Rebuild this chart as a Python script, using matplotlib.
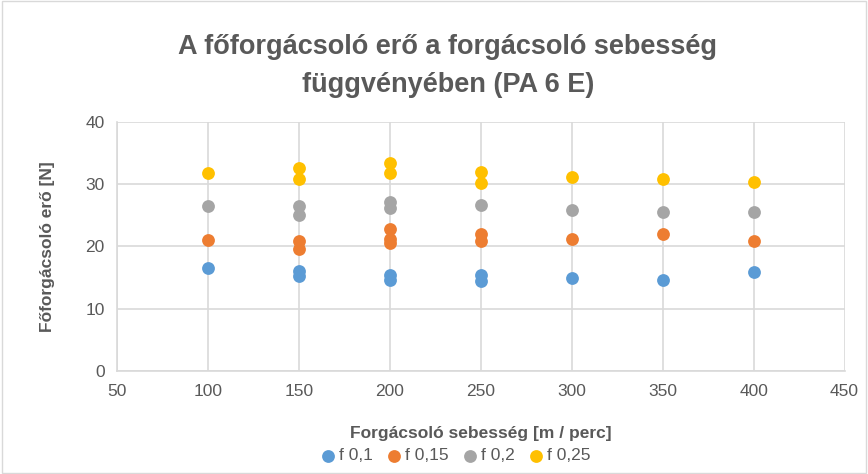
import matplotlib
matplotlib.use("Agg")
import matplotlib.pyplot as plt
from matplotlib.patches import Rectangle

# Adatok
x_f01 = [100, 150, 150, 200, 200, 250, 250, 300, 350, 400]
y_f01 = [16.6, 16.0, 15.2, 15.4, 14.6, 15.4, 14.4, 15.0, 14.7, 15.9]

x_f015 = [100, 150, 150, 200, 200, 200, 250, 250, 300, 350, 400]
y_f015 = [21.0, 20.9, 19.6, 22.8, 21.2, 20.6, 22.0, 20.8, 21.2, 22.0, 20.9]

x_f02 = [100, 150, 150, 200, 200, 250, 300, 350, 400]
y_f02 = [26.5, 26.5, 25.1, 27.2, 26.1, 26.7, 25.9, 25.5, 25.5]

x_f025 = [100, 150, 150, 200, 200, 250, 250, 300, 350, 400]
y_f025 = [31.8, 32.6, 30.8, 33.4, 31.8, 31.9, 30.2, 31.2, 30.8, 30.4]

series = [
    ("f 0,1", x_f01, y_f01, "#5B9BD5"),
    ("f 0,15", x_f015, y_f015, "#ED7D31"),
    ("f 0,2", x_f02, y_f02, "#A5A5A5"),
    ("f 0,25", x_f025, y_f025, "#FFC000"),
]

plt.rcParams["font.family"] = ["Liberation Sans", "DejaVu Sans"]
text_col = "#595959"
grid_col = "#D9D9D9"

fig = plt.figure(figsize=(8.68, 4.74), dpi=100)
ax = fig.add_axes([0.135, 0.217, 0.838, 0.526])

for label, xs, ys, col in series:
    ax.scatter(xs, ys, s=85, color=col, label=label, zorder=3, linewidths=0)

ax.set_xlim(50, 450)
ax.set_ylim(0, 40)
ax.set_xticks(range(50, 451, 50))
ax.set_yticks(range(0, 41, 10))
ax.grid(True, color=grid_col, linewidth=1.2)
ax.set_axisbelow(True)
for side in ["top", "right"]:
    ax.spines[side].set_visible(False)
for side in ["left", "bottom"]:
    ax.spines[side].set_color(grid_col)
    ax.spines[side].set_linewidth(1.2)
ax.tick_params(length=0, labelsize=12.5, colors=text_col, pad=9)

ax.set_xlabel("Forgácsoló sebesség [m / perc]", fontsize=12.5, fontweight="bold",
              color=text_col, labelpad=20)
ax.set_ylabel("Főforgácsoló erő [N]", fontsize=12.5, fontweight="bold",
              color=text_col, labelpad=22)

fig.suptitle("A főforgácsoló erő a forgácsoló sebesség\nfüggvényében (PA 6 E)",
             fontsize=19.5, fontweight="bold", color=text_col, x=0.516, y=0.928,
             va="top", linespacing=1.6)

ax.legend(loc="center", bbox_to_anchor=(0.463, -0.34), ncol=4, frameon=False,
          fontsize=12.5, handletextpad=0.05, columnspacing=0.6, labelcolor=text_col,
          markerscale=1.0, handlelength=1.2, borderpad=0.2)

fig.patches.append(Rectangle((0.002, 0.002), 0.996, 0.996, transform=fig.transFigure,
                             fill=False, edgecolor=grid_col, linewidth=1))

fig.savefig("out.png", dpi=100)
